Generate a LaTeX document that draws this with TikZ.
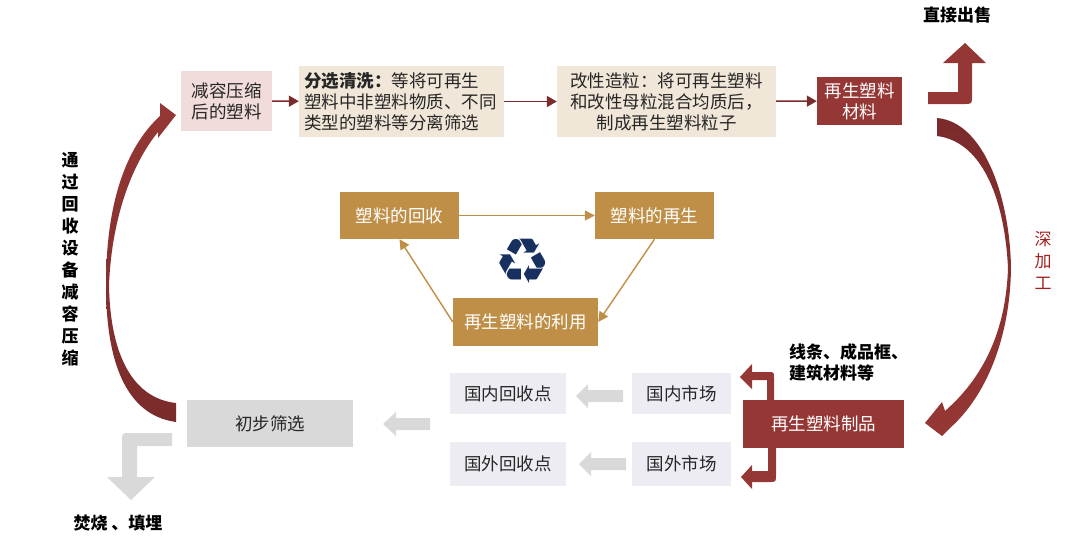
\documentclass[tikz,border=0pt]{standalone}
\usepackage{fontspec}
\setmainfont{Noto Sans CJK SC}
\newfontfamily\symfont{DejaVu Sans}
\usetikzlibrary{arrows.meta}

\definecolor{boxpink}{HTML}{F2DCDB}
\definecolor{boxbeige}{HTML}{F1E7D9}
\definecolor{boxred}{HTML}{953735}
\definecolor{darkred}{HTML}{7A2B2B}
\definecolor{boxgold}{HTML}{BF8F47}
\definecolor{boxgray}{HTML}{D9D9D9}
\definecolor{boxlav}{HTML}{EEECF3}
\definecolor{arrowgray}{HTML}{D9D9D9}
\definecolor{iconnavy}{HTML}{17305F}
\definecolor{labelred}{HTML}{A3201F}
\definecolor{textgray}{HTML}{262626}

\begin{document}
\begin{tikzpicture}
[x=1pt,y=-1pt,%
  every node/.style={inner sep=0pt,text=textgray,align=center,%
    font=\fontsize{17.5}{21}\selectfont},%
  pinkbox/.style={fill=boxpink},%
  beigebox/.style={fill=boxbeige},%
  redbox/.style={fill=boxred,text=white},%
  goldbox/.style={fill=boxgold,text=white,minimum height=47pt},%
  graybox/.style={fill=boxgray},%
  lavbox/.style={fill=boxlav,minimum width=99pt},%
  boldlabel/.style={text=black,font=\fontsize{17}{21}\selectfont\bfseries},%
  flowarrow/.style={-{Triangle[length=10pt,width=11pt]},draw=darkred,line width=1.5pt},%
  goldarrow/.style={-{Triangle[length=10pt,width=10pt]},draw=boxgold,line width=1.4pt}]
\useasboundingbox (0,0) rectangle (1080,542);
%% top row
\node[pinkbox,minimum width=91pt,minimum height=60pt] (shrink) at (226.5,101)
  {减容压缩\\后的塑料};
\node[beigebox,minimum width=205pt,minimum height=71pt,text width=195pt,align=left]
  (sortwash) at (401.5,101.5)
  {\textbf{分选清洗：}等将可再生\\塑料中非塑料物质、不同\\类型的塑料等分离筛选};
\node[beigebox,minimum width=219pt,minimum height=71pt] (granul) at (666.5,101.5)
  {改性造粒：将可再生塑料\\和改性母粒混合均质后，\\制成再生塑料粒子};
\node[redbox,minimum width=85pt,minimum height=48pt] (material) at (859.5,101)
  {再生塑料\\材料};
\node[boldlabel] (sell) at (957,15) {直接出售};
%% recycling triangle
\node[goldbox,minimum width=119pt] (recover) at (399.5,215.5) {塑料的回收};
\node[goldbox,minimum width=119pt] (regen) at (654.5,215.5) {塑料的再生};
\node[goldbox,minimum width=145pt,minimum height=48pt] (use) at (525.5,322) {再生塑料的利用};
\node[text=iconnavy,font=\symfont\fontsize{63}{63}\selectfont] (icon) at (523,261) {♻};
%% bottom row
\node[redbox,minimum width=161pt,minimum height=48pt] (product) at (823.5,424)
  {再生塑料制品};
\node[lavbox,minimum height=41pt] (dommarket) at (681.5,393.5) {国内市场};
\node[lavbox,minimum height=44pt] (formarket) at (681.5,464) {国外市场};
\node[lavbox,minimum width=116pt,minimum height=41pt] (dompoint) at (508,393.5) {国内回收点};
\node[lavbox,minimum width=116pt,minimum height=44pt] (forpoint) at (508,464) {国外回收点};
\node[graybox,minimum width=166pt,minimum height=47pt] (prescreen) at (270,423.5) {初步筛选};
\node[boldlabel,anchor=west,align=left] (goods) at (789,362.5)
  {线条、成品框、\\建筑材料等};
\node[boldlabel] (burn) at (118,523) {焚烧 、填埋};
%% side labels
\node[boldlabel,font=\fontsize{17}{22}\selectfont\bfseries] (squeeze) at (70,259)
  {通\\过\\回\\收\\设\\备\\减\\容\\压\\缩};
\node[text=labelred,font=\fontsize{17}{22}\selectfont] (deep) at (1043,260)
  {深\\加\\工};
%% big curved arrows
\shade[top color=darkred,bottom color=boxred]
  (937,118) .. controls (985,122) and (1010,200) .. (1011,268)
  .. controls (1010,340) and (985,397) .. (950,428)
  -- (942,436) -- (925,423) -- (942,402) -- (945,411)
  .. controls (984,377) and (1006,330) .. (1008,268)
  .. controls (1005,205) and (985,142) .. (937,136) -- cycle;
\shade[top color=boxred,bottom color=darkred]
  (176,422) .. controls (125,415) and (106,360) .. (106,285)
  .. controls (106,205) and (125,148) .. (160,116)
  -- (160,103) -- (176,115) -- (158,138) -- (158,132)
  .. controls (135,160) and (112,212) .. (109,285)
  .. controls (110,350) and (130,398) .. (176,403) -- cycle;
%% bent arrows
\fill[boxred] (928,92) -- (958,92) -- (958,63) -- (943,63) -- (965,43) -- (986,63)
  -- (972,63) -- (972,96) .. controls (972,104) .. (964,104) -- (928,104) -- cycle;
\fill[boxred] (767,400) -- (767,380) -- (752,380) -- (752,389) -- (740,377)
  -- (752,364) -- (752,372) -- (768,372) .. controls (774,372) .. (774,378)
  -- (774,400) -- cycle;
\fill[boxred] (768,448) -- (768,471) -- (752,471) -- (752,465) -- (741,477)
  -- (752,489) -- (752,482) -- (769,482) .. controls (776,482) .. (776,475)
  -- (776,448) -- cycle;
\fill[arrowgray] (172,433) -- (130,433) .. controls (122,433) .. (122,441)
  -- (122,477) -- (107,477) -- (131,500) -- (155,477) -- (137,477)
  -- (137,446) -- (172,446) -- cycle;
%% gray block arrows
\fill[arrowgray] (430,418) -- (396,418) -- (396,412) -- (383,424) -- (396,436)
  -- (396,430) -- (430,430) -- cycle;
\fill[arrowgray] (623,390) -- (588,390) -- (588,384) -- (576,396) -- (588,408)
  -- (588,402) -- (623,402) -- cycle;
\fill[arrowgray] (626,458) -- (591,458) -- (591,452) -- (579,464) -- (591,476)
  -- (591,470) -- (626,470) -- cycle;
%% connectors
\path
\foreach \startNode/\endNode in {shrink/sortwash, sortwash/granul, granul/material}
{
  (\startNode) edge[flowarrow] (\endNode)
};
\path
\foreach \startNode/\endNode in {recover.east/regen.west, regen.south/use.east,
  use.west/recover.south}
{
  (\startNode) edge[goldarrow] (\endNode)
};
\end{tikzpicture}
\end{document}
